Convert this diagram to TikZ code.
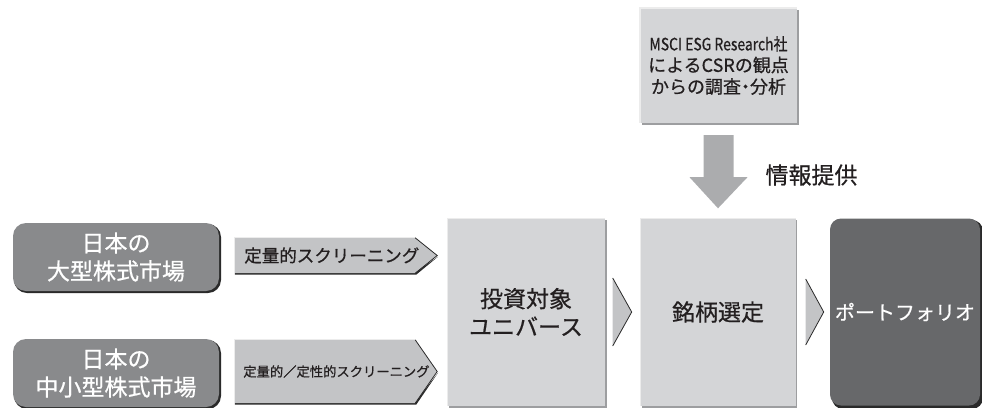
\documentclass[tikz,border=0pt]{standalone}
\usepackage{fontspec}
\setmainfont{Noto Sans CJK JP}[FakeBold=0.6]
\usetikzlibrary{calc}
\definecolor{leftgray}{HTML}{898A8C}
\definecolor{arrowgray}{HTML}{C3C4C6}
\definecolor{boxgray}{HTML}{D4D5D7}
\definecolor{darkbox}{HTML}{67686A}
\definecolor{downgray}{HTML}{ABACAE}
\definecolor{txt}{HTML}{231F20}
\definecolor{edgedark}{HTML}{2A2A2A}
\definecolor{edgemid}{HTML}{9D9EA0}
\begin{document}
\begin{tikzpicture}[x=1pt,y=-1pt,
  market/.style={fill=leftgray, rounded corners=13pt, text=white, align=center,
    minimum width=206pt, minimum height=68pt, inner sep=0pt,
    font=\fontsize{23}{28}\selectfont},
  screenbox/.style={minimum width=202pt, minimum height=#1, inner sep=0pt},
  stage/.style={fill=boxgray, minimum width=157pt, minimum height=187pt, inner sep=0pt,
    text=txt, align=center, font=\fontsize{23}{28}\selectfont},
  chev/.style={fill=arrowgray},
  chevedge/.style={draw=edgedark, line width=0.8pt},
  hilite/.style={draw=white!85!gray, line width=1.5pt}
]
\useasboundingbox (0,0) rectangle (982,407);

% market boxes with shadow
\fill[edgedark, rounded corners=13pt] (14,224) rectangle (221,293);
\node[market] (m1) at (116,257) {日本の\\大型株式市場};
\fill[edgedark, rounded corners=13pt] (14,340) rectangle (221,409);
\node[market] (m2) at (116,373) {日本の\\中小型株式市場};

% screening arrows
\node[screenbox=35pt] (s1) at (336,255.5) {};
\fill[edgedark] ($(s1.south west)+(0,-1)$) -- ($(s1.south east)+(-22,-1)$) -- ($(s1.east)+(1,1)$) -- ($(s1.south east)+(-21,1.5)$) -- ($(s1.south west)+(0,1.5)$) -- cycle;
\fill[arrowgray] (s1.north west) -- ($(s1.north east)+(-22,0)$) -- (s1.east) -- ($(s1.south east)+(-22,0)$) -- (s1.south west) -- cycle;
\draw[chevedge] ($(s1.north east)+(-22,0)$) -- (s1.east) -- ($(s1.south east)+(-22,0)$);
\draw[hilite, line width=1pt] (s1.south west) -- (s1.north west) -- ($(s1.north east)+(-22,0)$);
\node[text=txt, font=\fontsize{17.5}{20}\selectfont, anchor=west] at ($(s1.west)+(6,0)$) {定量的スクリーニング};

\node[screenbox=63pt] (s2) at (336,371.5) {};
\fill[edgedark] ($(s2.south west)+(0,-1)$) -- ($(s2.south east)+(-22,-1)$) -- ($(s2.east)+(1,1)$) -- ($(s2.south east)+(-21,1.5)$) -- ($(s2.south west)+(0,1.5)$) -- cycle;
\fill[arrowgray] (s2.north west) -- ($(s2.north east)+(-22,0)$) -- (s2.east) -- ($(s2.south east)+(-22,0)$) -- (s2.south west) -- cycle;
\draw[chevedge] ($(s2.north east)+(-22,0)$) -- (s2.east) -- ($(s2.south east)+(-22,0)$);
\draw[hilite, line width=1pt] (s2.south west) -- (s2.north west) -- ($(s2.north east)+(-22,0)$);
\node[text=txt, font=\fontsize{13.3}{16}\selectfont, anchor=west] at ($(s2.west)+(5,0)$) {定量的／定性的スクリーニング};

% stage boxes
\fill[edgemid] (449,220) rectangle (607,408);
\node[stage] (u) at (526,312) {投資対象\\ユニバース};
\draw[hilite] (u.south west) -- (u.north west) -- (u.north east);
\fill[edgemid] (642,220) rectangle (797,408);
\node[stage, minimum width=155pt] (sel) at (718,312) {銘柄選定};
\draw[hilite] (sel.south west) -- (sel.north west) -- (sel.north east);

\fill[edgedark, rounded corners=11pt] (832,220) rectangle (983,409);
\node[fill=darkbox, rounded corners=11pt, minimum width=150pt, minimum height=187pt,
  inner sep=0pt, text=white, font=\fontsize{20}{24}\selectfont] (pf) at (905,312) {ポートフォリオ};

% chevrons between stages
\coordinate (c1a) at ($(u.east)+(8,-34)$);
\coordinate (c1b) at ($(u.east)+(27,0)$);
\coordinate (c1c) at ($(u.east)+(8,34)$);
\fill[chev] (c1a) -- (c1b) -- (c1c) -- cycle;
\draw[chevedge] (c1a) -- (c1b) -- (c1c);
\coordinate (c2a) at ($(sel.east)+(10,-33)$);
\coordinate (c2b) at ($(sel.east)+(28,0)$);
\coordinate (c2c) at ($(sel.east)+(10,33)$);
\fill[chev] (c2a) -- (c2b) -- (c2c) -- cycle;
\draw[chevedge] (c2a) -- (c2b) -- (c2c);

% MSCI box
\fill[edgemid] (642,10) rectangle (799,125);
\node[fill=boxgray, minimum width=157pt, minimum height=115pt, inner sep=0pt,
  text=txt, align=center, font=\fontsize{18}{22.5}\selectfont] (msci) at (718.5,65.5)
  {{\fontsize{17}{22.5}\selectfont\addfontfeature{FakeStretch=0.82}MSCI ESG Research社}\\[-1pt]によるCSRの観点\\[-1pt]からの調査{\addfontfeature{RawFeature=+palt}・}分析};
\draw[hilite] (msci.south west) -- (msci.north west) -- (msci.north east);

% down arrow
\coordinate (d0) at ($(msci.south)+(0,12)$);
\coordinate (d1) at ($(sel.north)+(0,-10)$);
\fill[downgray] ($(d0)+(-15,0)$) -- ($(d0)+(15,0)$) -- ($(d0)+(15,42)$) -- ($(d0)+(29,42)$)
  -- (d1) -- ($(d0)+(-29,42)$) -- ($(d0)+(-15,42)$) -- cycle;
\node[text=txt, font=\fontsize{23}{28}\selectfont, anchor=west] (info) at (762,175) {情報提供};
\end{tikzpicture}
\end{document}
